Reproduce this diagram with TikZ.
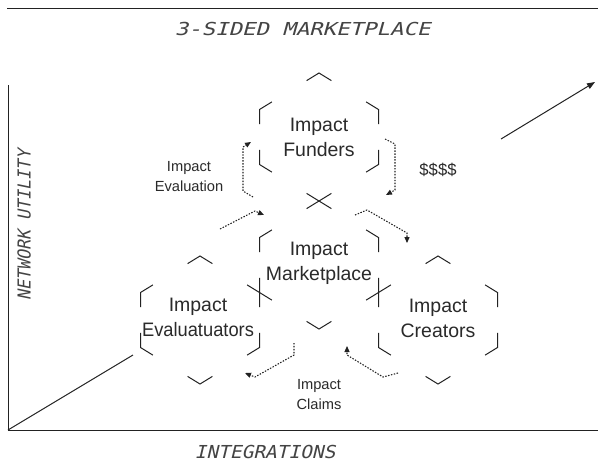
\documentclass[tikz,border=0pt]{standalone}
\usepackage{fontspec}
\setmainfont{Liberation Sans}
\newfontfamily\lcdfont[FakeSlant=0.22]{DejaVu Sans Mono}
\usepackage{graphicx}
\usetikzlibrary{calc,arrows.meta}
\definecolor{ink}{HTML}{222222}
\definecolor{txt}{HTML}{2A2A2A}
\definecolor{lcdtxt}{HTML}{444444}
\newcommand{\hexframe}[1]{%
  \coordinate (#1-t)  at ($(#1)+(0,-64)$);
  \coordinate (#1-ur) at ($(#1)+(59.5,-27.5)$);
  \coordinate (#1-lr) at ($(#1)+(59.5,27.5)$);
  \coordinate (#1-b)  at ($(#1)+(0,64)$);
  \coordinate (#1-ll) at ($(#1)+(-59.5,27.5)$);
  \coordinate (#1-ul) at ($(#1)+(-59.5,-27.5)$);
  \foreach \pa/\va/\na in {ul/t/ur,t/ur/lr,ur/lr/b,lr/b/ll,b/ll/ul,ll/ul/t}{%
    \draw[hexline] ($(#1-\va)!10.9pt!(#1-\pa)$) -- (#1-\va) -- ($(#1-\va)!10.9pt!(#1-\na)$);
  }%
}
\begin{document}
\begin{tikzpicture}[x=0.75pt,y=-0.75pt,
  hexline/.style={draw=ink,line width=0.75pt},
  axisline/.style={draw=ink,line width=0.75pt},
  flow/.style={draw=ink,line width=0.8pt,dash pattern=on 1.1pt off 1.1pt,-{Triangle[length=4.5pt,width=3.8pt]}},
  biglabel/.style={font=\fontsize{14.6}{18.75}\selectfont,align=center,text=txt,inner sep=0pt},
  smalllabel/.style={font=\fontsize{11}{15.5}\selectfont,align=center,text=txt,inner sep=0pt},
  lcd/.style={font=\fontsize{13.4}{16}\selectfont\lcdfont,text=lcdtxt,inner sep=0pt}]
\fill[white] (0,0) rectangle (598,462);
\useasboundingbox (0,0) rectangle (598,462);

% frame and axes
\coordinate (tl) at (7,8);
\coordinate (tr) at (598,8);
\coordinate (ytop) at (8,85);
\coordinate (orig) at (8,430);
\coordinate (xend) at (598,430);
\coordinate (g1) at (133,355);
\coordinate (g2) at (501,139);
\coordinate (g3) at (595,82);
\draw[axisline] (tl) -- (tr);
\draw[axisline] (ytop) -- (orig) -- (xend);
\draw[axisline] (orig) -- (g1);
\draw[axisline,-{Triangle[length=6pt,width=4.5pt]}] (g2) -- (g3);

% axis titles
\node[lcd] (title) at (302.5,29.3) {\scalebox{1.25}[1]{3-SIDED MARKETPLACE}};
\node[lcd] (xlab) at (265,451.5) {\scalebox{1.09}[1]{INTEGRATIONS}};
\node[lcd,rotate=90] (ylab) at (24,225) {\scalebox{0.93}[1]{NETWORK UTILITY}};

% hexagon centres
\coordinate (hF) at (319,137);
\coordinate (hM) at (319,265);
\coordinate (hE) at (200,320);
\coordinate (hC) at (438,320);
\hexframe{hF}
\hexframe{hM}
\hexframe{hE}
\hexframe{hC}

% labels
\node[biglabel] (F) at ($(hF)+(0,0)$) {Impact\\Funders};
\node[biglabel] (M) at ($(hM)+(0,-1.5)$) {Impact\\Marketplace};
\node[biglabel] (E) at ($(hE)+(-2,-2.5)$) {Impact\\\scalebox{0.94}[1]{Evaluatuators}};
\node[biglabel] (C) at ($(hC)+(0,-1.5)$) {Impact\\Creators};
\node[smalllabel] (lev) at (189,176.5) {Impact\\Evaluation};
\node[smalllabel,font=\fontsize{12.5}{15}\selectfont] (lmoney) at (438,170) {\$\$\$\$};
\node[smalllabel] (lcl) at (319,394.5) {Impact\\Claims};

% flows
\coordinate (a1) at (253,197); \coordinate (a2) at (251,142);
\coordinate (c1) at (385,139); \coordinate (c2) at (386,195);
\coordinate (b1) at (220,229); \coordinate (b2) at (264,215);
\coordinate (d1) at (355,215); \coordinate (d2) at (407,243);
\coordinate (e1) at (294,343); \coordinate (e2) at (245,373);
\coordinate (f1) at (398,373); \coordinate (f2) at (347,346);
\draw[flow] (a1) -- (243,191) -- (243,147) -- (a2);
\draw[flow] (c1) -- (395,144) -- (395,190) -- (c2);
\draw[flow] (b1) -- (255,211) -- (b2);
\draw[flow] (d1) -- (367,210) -- (407,233) -- (d2);
\draw[flow] (e1) -- (294,355) -- (255,377) -- (e2);
\draw[flow] (f1) -- (383,377) -- (347,355) -- (f2);
\end{tikzpicture}
\end{document}
